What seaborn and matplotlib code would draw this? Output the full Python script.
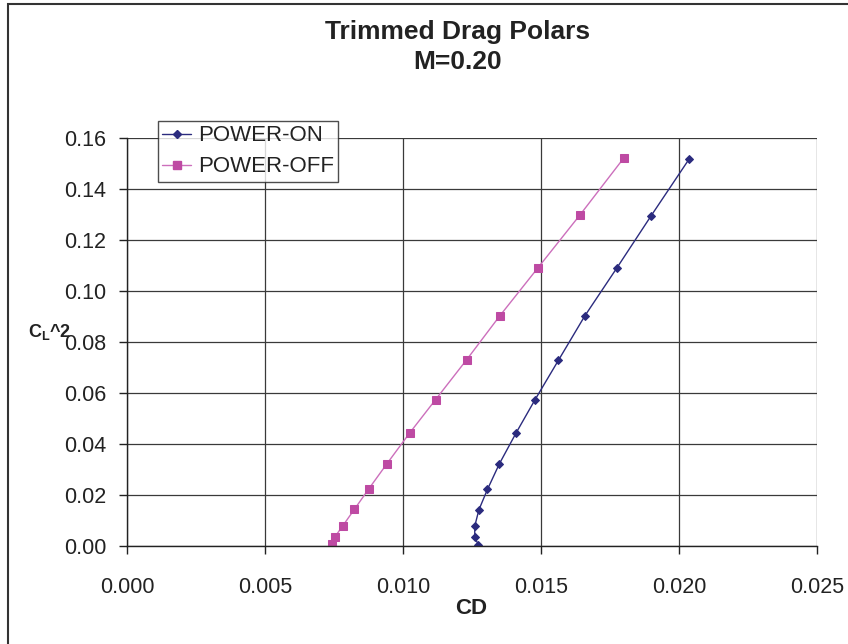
import matplotlib
matplotlib.use("Agg")
import matplotlib.pyplot as plt
import seaborn as sns
import pandas as pd
from matplotlib.patches import Rectangle
from matplotlib.lines import Line2D

# Trimmed drag polar data, M = 0.20
cd_power_on = [0.01273, 0.01260, 0.01260, 0.01275, 0.01306, 0.01349, 0.01409,
               0.01478, 0.01563, 0.01658, 0.01774, 0.01899, 0.02037]
cl2_power_on = [0.0005, 0.0034, 0.0078, 0.0142, 0.0222, 0.0322, 0.0442,
                0.0573, 0.0728, 0.0901, 0.1089, 0.1295, 0.1518]

cd_power_off = [0.00742, 0.00754, 0.00781, 0.00824, 0.00876, 0.00942, 0.01024,
                0.01118, 0.01231, 0.01351, 0.01489, 0.01641, 0.01801]
cl2_power_off = [0.0008, 0.0037, 0.0078, 0.0144, 0.0224, 0.0323, 0.0443,
                 0.0574, 0.0731, 0.0903, 0.1091, 0.1298, 0.1523]

series_names = ["POWER-ON", "POWER-OFF"]
x_ticks = [0.000, 0.005, 0.010, 0.015, 0.020, 0.025]
y_ticks = [0.00, 0.02, 0.04, 0.06, 0.08, 0.10, 0.12, 0.14, 0.16]

df = pd.concat([
    pd.DataFrame({"CD": cd_power_on, "CL2": cl2_power_on, "Series": series_names[0]}),
    pd.DataFrame({"CD": cd_power_off, "CL2": cl2_power_off, "Series": series_names[1]}),
], ignore_index=True)

sns.set_theme(style="white")
plt.rcParams["font.family"] = ["Liberation Sans", "DejaVu Sans"]
plt.rcParams["mathtext.fontset"] = "custom"
plt.rcParams["mathtext.rm"] = "Liberation Sans"
plt.rcParams["mathtext.bf"] = "Liberation Sans:bold"

W, H = 848, 644
fig = plt.figure(figsize=(W / 100, H / 100), dpi=100)
ax = fig.add_axes([127 / W, 1 - 546 / H, (817 - 127) / W, (546 - 138) / H])

blue = "#2B2B7E"
pink_marker = "#BE4AA3"
pink_line = "#CC6FBC"
text_col = "#222222"

sns.lineplot(data=df, x="CD", y="CL2", hue="Series", style="Series",
             palette={series_names[0]: blue, series_names[1]: pink_line},
             markers={series_names[0]: "D", series_names[1]: "s"},
             dashes=False, sort=False, estimator=None, linewidth=1.0,
             ax=ax, legend=False)

# marker styling per series
for line, mc, ms in zip(ax.get_lines(), [blue, pink_marker], [4.5, 6]):
    line.set_markerfacecolor(mc)
    line.set_markeredgecolor(mc)
    line.set_markersize(ms)

ax.set_xlim(0, 0.025)
ax.set_ylim(0, 0.16)
ax.set_xticks(x_ticks)
ax.set_yticks(y_ticks)
ax.set_xticklabels([f"{v:.3f}" for v in x_ticks])
ax.set_yticklabels([f"{v:.2f}" for v in y_ticks])
ax.tick_params(axis="x", labelsize=15.5, length=6, width=1, direction="out",
               pad=16, colors=text_col, bottom=True)
ax.tick_params(axis="y", labelsize=15.5, length=6, width=1, direction="out",
               pad=9, colors=text_col, left=True)
ax.grid(True, color="#3a3a3a", linewidth=0.9)
ax.set_axisbelow(True)
for side in ["top", "right"]:
    ax.spines[side].set_visible(False)
for side in ["left", "bottom"]:
    ax.spines[side].set_color(text_col)
    ax.spines[side].set_linewidth(1.0)

ax.set_xlabel("")
ax.set_ylabel("")
fig.text(471 / W, 1 - 609 / H, "CD", fontsize=16, fontweight="bold",
         ha="center", va="center", color=text_col)
fig.text(28 / W, 1 - 332 / H, r"$\mathbf{C_L}$^2", fontsize=13, fontweight="bold",
         ha="left", va="center", color=text_col)

fig.text(458 / W, 1 - 47 / H, "Trimmed Drag Polars\nM=0.20", fontsize=19,
         fontweight="bold", ha="center", va="center", linespacing=1.35,
         color=text_col)

# legend
handles = [
    Line2D([], [], color=blue, marker="D", markersize=4.5, linewidth=1.0),
    Line2D([], [], color=pink_line, marker="s", markersize=6, linewidth=1.0,
           markerfacecolor=pink_marker, markeredgecolor=pink_marker),
]
leg = fig.legend(handles, series_names, loc="upper left",
                 bbox_to_anchor=(158 / W, 1 - 121 / H), fontsize=16,
                 frameon=True, fancybox=False, borderpad=0.2, handlelength=1.3,
                 handletextpad=0.3, labelspacing=0.45, borderaxespad=0)
leg.get_frame().set_edgecolor(text_col)
leg.get_frame().set_linewidth(1.0)
for t in leg.get_texts():
    t.set_color(text_col)

# outer chart frame
fig.patches.append(Rectangle((8 / W, -0.05), 1.2, 1 - 4 / H + 0.05,
                             transform=fig.transFigure, fill=False,
                             edgecolor="#333333", linewidth=1.5))

fig.savefig("out.png", dpi=100, facecolor="white")
